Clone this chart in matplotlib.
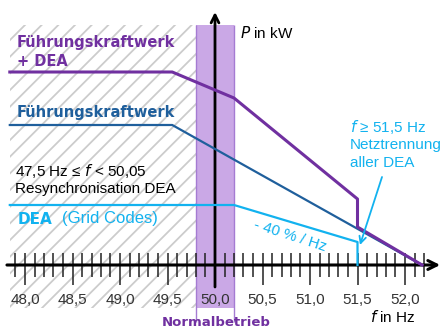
import numpy as np
import matplotlib.pyplot as plt
from matplotlib.patches import Rectangle

# Frequenz in Hz, Leistung in relativen Einheiten (Achse ohne Skala)
f_fk = [47.84, 49.55, 52.18]
p_fk = [140, 140, 0]
f_dea = [47.84, 50.2, 51.5, 51.5]
p_dea = [60, 60, 23, 0]
f_sum = [47.84, 49.55, 50.2, 51.5, 51.5, 52.18]
p_sum = [193, 193, 167, 66, 38, 0]

tick_pos = [48.0, 48.5, 49.0, 49.5, 50.0, 50.5, 51.0, 51.5, 52.0]
tick_labels = ['48,0', '48,5', '49,0', '49,5', '50,0', '50,5', '51,0', '51,5', '52,0']

normal_band = (49.8, 50.2)
resync_zone = (47.84, 49.8)

PURPLE = '#7030a0'
DARKBLUE = '#1f5f9c'
LIGHTBLUE = '#12b2ef'
BAND = '#caa8e6'
BAND_EDGE = '#a57bd2'

W, H = 445, 331
fig = plt.figure(figsize=(W / 100, H / 100), dpi=100)
ax = fig.add_axes([0, 0, 1, 1])
ax.set_xlim(48 - 25 / 95, 48 + 420 / 95)
ax.set_ylim(-66, 265)
ax.axis('off')

def px(x, y):
    return x / W, 1 - y / H

# schraffierter Bereich (Resynchronisation)
plt.rcParams['hatch.linewidth'] = 1.3
ax.add_patch(Rectangle((resync_zone[0], -43), resync_zone[1] - resync_zone[0], 283,
                       hatch='//', fill=False, edgecolor='#cccccc', lw=0, zorder=1))

# Normalbetrieb
ax.add_patch(Rectangle((normal_band[0], -43), normal_band[1] - normal_band[0], 283,
                       facecolor=BAND, edgecolor='none', zorder=2))
ax.vlines(normal_band, -57, 240, color=BAND_EDGE, lw=1, zorder=2)

# Achsen
ax.annotate('', xy=(52.37, 0), xytext=(47.81, 0),
            arrowprops=dict(arrowstyle='->', lw=2.2, color='black', mutation_scale=16,
                            shrinkA=0, shrinkB=0), zorder=5)
ax.annotate('', xy=(50.0, 253), xytext=(50.0, -22),
            arrowprops=dict(arrowstyle='->', lw=2.0, color='black', mutation_scale=14,
                            shrinkA=0, shrinkB=0), zorder=5)

ticks = np.round(np.arange(47.9, 52.21, 0.1), 1)
minor = [t for t in ticks if t not in tick_pos]
ax.vlines(minor, -12, 12, color='#222222', lw=1.1, zorder=4)
ax.vlines(tick_pos, -20, 12, color='#222222', lw=1.1, zorder=4)
for t, lab in zip(tick_pos, tick_labels):
    ax.text(t, -35, lab, ha='center', va='center', fontsize=11,
            family='Liberation Sans', color='#333333', zorder=6)

# Kennlinien
ax.plot(f_dea, p_dea, color=LIGHTBLUE, lw=1.6, zorder=6)
ax.plot(f_fk, p_fk, color=DARKBLUE, lw=1.6, zorder=6)
ax.plot(f_sum, p_sum, color=PURPLE, lw=2.2, zorder=7)

# Beschriftungen
fig.text(*px(17, 42), 'Führungskraftwerk', color=PURPLE, fontsize=10.5,
         fontweight='bold', va='center')
fig.text(*px(17, 62), '+ DEA', color=PURPLE, fontsize=10.5,
         fontweight='bold', va='center')
fig.text(*px(17, 112), 'Führungskraftwerk', color=DARKBLUE, fontsize=10.5,
         fontweight='bold', va='center')
fig.text(*px(15, 171), '47,5 Hz ≤ $f$ < 50,05', color='black', fontsize=11,
         family='Liberation Sans', va='center')
fig.text(*px(15, 189), 'Resynchronisation DEA', color='black', fontsize=11,
         family='Liberation Sans', va='center')
fig.text(*px(18, 219), 'DEA', color=LIGHTBLUE, fontsize=11, fontweight='bold', va='center')
fig.text(*px(62, 219), '(Grid Codes)', color=LIGHTBLUE, fontsize=12,
         family='Liberation Sans', va='center')
fig.text(*px(240, 33), '$P$ in kW', color='black', fontsize=11,
         family='Liberation Sans', va='center')
fig.text(*px(350, 127), '$f$ ≥ 51,5 Hz', color=LIGHTBLUE, fontsize=11,
         family='Liberation Sans', va='center')
fig.text(*px(350, 145), 'Netztrennung', color=LIGHTBLUE, fontsize=11,
         family='Liberation Sans', va='center')
fig.text(*px(350, 163), 'aller DEA', color=LIGHTBLUE, fontsize=11,
         family='Liberation Sans', va='center')
fig.text(*px(290, 236), '- 40 % / Hz', color=LIGHTBLUE, fontsize=11,
         family='Liberation Sans', va='center', ha='center', rotation=-18)
fig.text(*px(370, 317), '$f$ in Hz', color='black', fontsize=11,
         family='Liberation Sans', va='center')
fig.text(*px(216, 323), 'Normalbetrieb', color=PURPLE, fontsize=9.5,
         fontweight='bold', va='center', ha='center')

ax.annotate('', xy=(51.526, 20), xytext=(51.758, 88),
            arrowprops=dict(arrowstyle='->', lw=1.3, color=LIGHTBLUE, mutation_scale=12,
                            shrinkA=0, shrinkB=0), zorder=8)

fig.savefig('out.png', dpi=100)
